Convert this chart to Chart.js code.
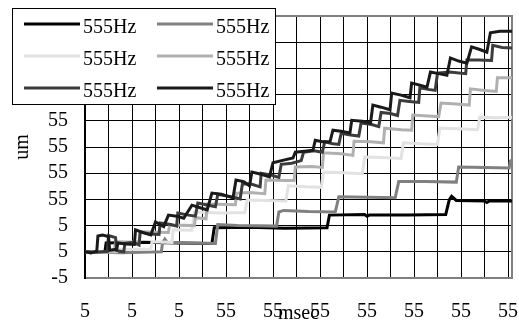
<!DOCTYPE html>
<html>
<head>
<meta charset="utf-8">
<script src="https://cdn.jsdelivr.net/npm/chart.js@4"></script>
<style>
    body { margin: 0; background: #fff; }
    #wrap { width: 519px; height: 326px; }
</style>
</head>
<body>
<div id="wrap"><canvas id="stepChart"></canvas></div>
<script>
const xTickLabels = ['5', '5', '5', '55', '55', '55', '55', '55', '55', '55'];
// the top tick (45) has no label showing above the legend
const yTickLabels = ['-5', '5', '5', '55', '55', '55', '55', '55', '55', '55', ''];
const seriesLabels = ['555Hz', '555Hz', '555Hz', '555Hz', '555Hz', '555Hz'];
const seriesColors = ['#000000', '#808080', '#e2e2e2', '#b0b0b0', '#3c3c3c', '#1a1a1a'];

// [msec, um] pairs
const s1 = [[0, 0], [1.7, 0.1], [1.8, 1.7], [5.0, 1.8], [8.0, 1.7], [10.8, 1.6], [11.0, 4.6], [14.0, 4.7],
    [17.0, 4.5], [20.6, 4.6], [20.8, 7.0], [23.8, 7.1], [24.0, 6.8], [24.2, 7.0], [27.5, 7.0], [30.7, 7.1],
    [31.0, 9.9], [31.2, 10.6], [31.6, 9.8], [34.0, 9.7], [34.2, 9.4], [34.4, 9.7], [36.34, 9.7]];
const s2 = [[0, 0], [3.0, -0.2], [6.5, 0.0], [6.6, 1.7], [6.8, 2.4], [7.0, 1.8], [9.0, 1.7], [11.1, 1.6],
    [11.3, 5.2], [13.0, 5.0], [16.3, 4.9], [16.5, 7.6], [16.9, 7.9], [19.0, 7.7], [21.3, 7.6], [21.6, 10.5],
    [24.0, 10.4], [26.4, 10.3], [26.7, 13.4], [29.0, 13.4], [31.6, 13.3], [31.8, 16.2], [34.0, 16.1],
    [36.1, 16.0], [36.2, 17.3], [36.34, 17.5]];
const s3 = [[0, 0], [2.7, 0.0], [2.8, 0.5], [5.6, 0.5], [5.7, 1.9], [7.4, 1.8], [7.5, 4.2], [9.1, 4.1],
    [9.3, 7.6], [11.5, 7.4], [13.6, 7.5], [13.8, 9.9], [15.5, 9.8], [17.1, 9.7], [17.3, 12.6], [18.8, 12.4],
    [20.1, 12.3], [20.3, 15.2], [22.0, 15.1], [23.6, 14.9], [23.8, 18.1], [25.3, 18.0], [26.9, 17.8],
    [27.1, 20.8], [28.6, 20.6], [30.0, 20.5], [30.2, 23.6], [31.8, 23.5], [33.4, 23.3], [33.6, 25.7],
    [35.0, 25.6], [36.34, 25.7]];
const s4 = [[0, 0], [2.5, 0.1], [2.6, 1.9], [4.6, 1.8], [4.7, 3.8], [7.1, 3.7], [7.2, 5.1], [9.3, 5.0],
    [9.4, 6.5], [10.3, 6.3], [10.4, 9.1], [12.8, 9.0], [12.9, 11.2], [14.0, 11.3], [15.3, 11.1], [15.4, 13.7],
    [17.0, 13.6], [17.8, 13.6], [17.9, 16.2], [19.3, 16.3], [20.2, 16.1], [20.3, 18.9], [21.8, 18.7],
    [22.8, 18.4], [22.9, 21.1], [24.3, 21.0], [25.4, 20.8], [25.5, 23.6], [26.9, 23.3], [27.8, 23.2],
    [27.9, 26.1], [29.2, 25.9], [30.1, 25.8], [30.3, 28.4], [31.6, 28.2], [32.7, 28.0], [32.8, 31.1],
    [34.0, 30.8], [35.0, 30.6], [35.1, 33.2], [36.34, 33.2]];
const s5 = [[0, 0], [1.0, -0.1], [1.9, 0.1], [2.0, 3.1], [2.6, 2.7], [2.7, 0.2], [3.3, 0.0], [3.4, 1.6],
    [4.1, 1.8], [4.6, 1.3], [4.7, 3.8], [5.5, 3.4], [6.3, 3.3], [6.4, 5.5], [7.3, 5.2], [7.8, 4.9], [7.9, 7.4],
    [8.8, 7.0], [9.4, 6.8], [9.6, 9.3], [10.5, 8.9], [11.1, 8.6], [11.3, 11.0], [12.2, 10.6], [13.2, 10.1],
    [13.4, 13.0], [14.2, 12.9], [14.9, 12.4], [15.0, 15.0], [15.9, 14.6], [16.5, 14.2], [16.7, 16.7],
    [17.6, 16.9], [18.4, 17.4], [18.6, 19.0], [19.5, 19.3], [20.2, 19.0], [20.4, 21.0], [21.1, 20.6],
    [21.6, 20.5], [21.8, 22.6], [22.6, 22.3], [23.3, 22.1], [23.5, 24.6], [24.4, 24.3], [25.0, 23.9],
    [25.2, 26.6], [26.0, 26.4], [26.6, 26.0], [26.8, 28.9], [27.6, 28.7], [28.4, 28.5], [28.5, 31.3],
    [29.2, 31.0], [29.8, 30.8], [30.0, 34.1], [31.0, 34.3], [32.4, 34.0], [32.5, 36.6], [33.5, 36.6],
    [34.6, 36.5], [34.7, 39.4], [35.5, 39.0], [36.34, 38.9]];
const s6 = [[0, 0], [0.5, -0.2], [1.0, 0.1], [1.1, 3.0], [1.5, 3.2], [2.0, 2.9], [2.1, 0.3], [2.7, 0.5],
    [2.8, 1.7], [3.5, 1.5], [4.2, 1.4], [4.3, 4.2], [5.0, 3.6], [5.6, 3.2], [6.0, 5.7], [6.7, 4.8], [7.1, 7.0],
    [7.8, 6.8], [8.4, 6.4], [9.1, 8.9], [9.8, 8.4], [10.4, 8.0], [10.8, 11.2], [11.6, 11.0], [12.6, 10.3],
    [12.85, 13.7], [13.5, 13.4], [14.0, 12.6], [14.2, 15.2], [15.0, 14.8], [15.7, 14.3], [16.0, 17.0],
    [16.9, 17.5], [17.7, 17.9], [17.9, 19.0], [18.7, 19.2], [19.4, 19.4], [19.6, 21.3], [20.2, 21.0],
    [20.85, 21.0], [21.1, 23.2], [21.8, 23.0], [22.55, 22.7], [22.7, 25.1], [23.6, 24.9], [24.3, 24.6],
    [24.5, 28.0], [25.2, 27.6], [25.96, 27.1], [26.1, 30.3], [26.9, 29.9], [27.66, 29.4], [27.8, 32.2],
    [28.5, 31.8], [29.1, 31.4], [29.4, 34.3], [30.1, 34.0], [30.8, 33.7], [31.1, 37.0], [31.8, 36.4],
    [32.5, 36.0], [32.9, 39.1], [33.6, 38.6], [34.2, 38.1], [34.5, 41.8], [35.3, 42.1], [36.34, 42.1]];
const seriesData = [s1, s2, s3, s4, s5, s6];

const serif = 'Liberation Serif';

// grey frame on top and right of the plot
const plotFrame = {
    id: 'plotFrame',
    beforeDatasetsDraw(chart) {
        const {ctx, chartArea: a} = chart;
        ctx.save();
        ctx.strokeStyle = '#808080';
        ctx.lineWidth = 2;
        ctx.beginPath();
        ctx.moveTo(a.left, a.top);
        ctx.lineTo(a.right, a.top);
        ctx.lineTo(a.right, a.bottom);
        ctx.stroke();
        ctx.restore();
    }
};

// boxed two-column legend sitting over the upper left corner
const legendBox = {
    id: 'legendBox',
    afterDraw(chart) {
        const ctx = chart.ctx;
        ctx.save();
        ctx.fillStyle = '#fff';
        ctx.fillRect(12.5, 8.5, 263, 96);
        ctx.strokeStyle = '#000';
        ctx.lineWidth = 1;
        ctx.strokeRect(12.5, 8.5, 263, 96);
        ctx.font = '20px "' + serif + '"';
        ctx.textBaseline = 'middle';
        chart.data.datasets.forEach((ds, i) => {
            const x0 = 24 + (i % 2) * 133;
            const y = 24 + Math.floor(i / 2) * 32;
            ctx.strokeStyle = ds.borderColor;
            ctx.lineWidth = 3;
            ctx.beginPath();
            ctx.moveTo(x0, y);
            ctx.lineTo(x0 + 56, y);
            ctx.stroke();
            ctx.fillStyle = '#000';
            ctx.fillText(ds.label, x0 + 59, y + 3.5);
        });
        ctx.restore();
    }
};

new Chart(document.getElementById('stepChart'), {
    type: 'line',
    data: {
        datasets: seriesData.map((pts, i) => ({
            label: seriesLabels[i],
            data: pts,
            borderColor: seriesColors[i],
            borderWidth: 3,
            pointRadius: 0,
            fill: false,
            tension: 0,
            order: seriesData.length - i
        }))
    },
    options: {
        responsive: true,
        maintainAspectRatio: false,
        animation: false,
        events: [],
        layout: { padding: { top: 16, right: 7, left: 0, bottom: 0 } },
        plugins: {
            legend: { display: false },
            tooltip: { enabled: false }
        },
        scales: {
            x: {
                type: 'linear',
                min: 0,
                max: 36.34,
                grid: { color: '#000', lineWidth: 1, drawTicks: false },
                border: { color: '#808080', width: 2 },
                ticks: {
                    stepSize: 2,
                    includeBounds: false,
                    autoSkip: false,
                    maxRotation: 0,
                    padding: 22,
                    color: '#000',
                    font: { family: serif, size: 20 },
                    callback: (v) => v % 4 === 0 ? xTickLabels[v / 4] : ''
                },
                title: {
                    display: true,
                    text: 'msec',
                    color: '#000',
                    font: { family: serif, size: 20 },
                    padding: { top: 0, bottom: 0 }
                },
                afterFit: (scale) => {
                    scale.height = 48;
                    scale.paddingLeft = 0;
                    scale.paddingRight = 0;
                }
            },
            y: {
                min: -5,
                max: 45,
                grid: { color: '#000', lineWidth: 1, drawTicks: false },
                border: { color: '#000', width: 2 },
                ticks: {
                    stepSize: 5,
                    autoSkip: false,
                    padding: 17,
                    color: '#000',
                    font: { family: serif, size: 20 },
                    callback: (v) => yTickLabels[(v + 5) / 5]
                },
                title: {
                    display: true,
                    text: 'um',
                    color: '#000',
                    font: { family: serif, size: 20 },
                    padding: { top: 11, bottom: 0 }
                },
                afterFit: (scale) => {
                    scale.width = 85;
                    scale.paddingTop = 0;
                    scale.paddingBottom = 0;
                }
            }
        }
    },
    plugins: [plotFrame, legendBox]
});
</script>
</body>
</html>
